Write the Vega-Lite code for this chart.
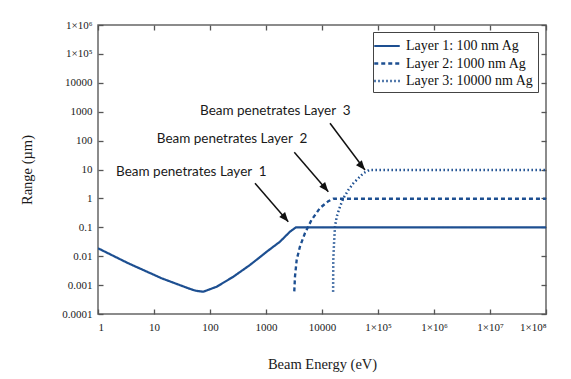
{
  "$schema": "https://vega.github.io/schema/vega-lite/v6.json",
  "width": 448,
  "height": 289,
  "autosize": "none",
  "padding": {"left": 98, "top": 25, "right": 25, "bottom": 65},
  "background": "white",
  "config": {
    "view": {"stroke": "#666666", "strokeWidth": 1.5},
    "axis": {"grid": false, "domain": false, "tickColor": "#555555", "tickWidth": 1.3, "labelFont": "Liberation Serif", "labelFontSize": 11, "labelColor": "#1a1a1a", "titleFont": "Liberation Serif", "titleFontSize": 14.5, "titleFontWeight": "normal", "titleColor": "#1a1a1a"}
  },
  "datasets": {
    "curves": [
      {"layer": "Layer 1: 100 nm Ag", "E": 1, "R": 0.0188},
      {"layer": "Layer 1: 100 nm Ag", "E": 3.48, "R": 0.00568},
      {"layer": "Layer 1: 100 nm Ag", "E": 13.7, "R": 0.00172},
      {"layer": "Layer 1: 100 nm Ag", "E": 41, "R": 0.000775},
      {"layer": "Layer 1: 100 nm Ag", "E": 55, "R": 0.00064},
      {"layer": "Layer 1: 100 nm Ag", "E": 75.9, "R": 0.00059},
      {"layer": "Layer 1: 100 nm Ag", "E": 131.8, "R": 0.00088},
      {"layer": "Layer 1: 100 nm Ag", "E": 261, "R": 0.00195},
      {"layer": "Layer 1: 100 nm Ag", "E": 518, "R": 0.00497},
      {"layer": "Layer 1: 100 nm Ag", "E": 1030, "R": 0.0143},
      {"layer": "Layer 1: 100 nm Ag", "E": 1778, "R": 0.0318},
      {"layer": "Layer 1: 100 nm Ag", "E": 2683, "R": 0.0705},
      {"layer": "Layer 1: 100 nm Ag", "E": 3433, "R": 0.1},
      {"layer": "Layer 1: 100 nm Ag", "E": 100000000, "R": 0.1},
      {"layer": "Layer 2: 1000 nm Ag", "E": 3200, "R": 0.000605},
      {"layer": "Layer 2: 1000 nm Ag", "E": 3296, "R": 0.002},
      {"layer": "Layer 2: 1000 nm Ag", "E": 3535, "R": 0.0076},
      {"layer": "Layer 2: 1000 nm Ag", "E": 4050, "R": 0.0218},
      {"layer": "Layer 2: 1000 nm Ag", "E": 4970, "R": 0.0635},
      {"layer": "Layer 2: 1000 nm Ag", "E": 6540, "R": 0.183},
      {"layer": "Layer 2: 1000 nm Ag", "E": 9210, "R": 0.466},
      {"layer": "Layer 2: 1000 nm Ag", "E": 12970, "R": 0.8},
      {"layer": "Layer 2: 1000 nm Ag", "E": 15900, "R": 0.97},
      {"layer": "Layer 2: 1000 nm Ag", "E": 100000000, "R": 0.97},
      {"layer": "Layer 3: 10000 nm Ag", "E": 15800, "R": 0.00059},
      {"layer": "Layer 3: 10000 nm Ag", "E": 15900, "R": 0.0074},
      {"layer": "Layer 3: 10000 nm Ag", "E": 16400, "R": 0.0279},
      {"layer": "Layer 3: 10000 nm Ag", "E": 17060, "R": 0.105},
      {"layer": "Layer 3: 10000 nm Ag", "E": 18300, "R": 0.233},
      {"layer": "Layer 3: 10000 nm Ag", "E": 20950, "R": 0.516},
      {"layer": "Layer 3: 10000 nm Ag", "E": 23990, "R": 1.0},
      {"layer": "Layer 3: 10000 nm Ag", "E": 29500, "R": 1.95},
      {"layer": "Layer 3: 10000 nm Ag", "E": 36250, "R": 3.33},
      {"layer": "Layer 3: 10000 nm Ag", "E": 44500, "R": 4.96},
      {"layer": "Layer 3: 10000 nm Ag", "E": 54700, "R": 7.39},
      {"layer": "Layer 3: 10000 nm Ag", "E": 70000, "R": 9.7},
      {"layer": "Layer 3: 10000 nm Ag", "E": 100000000, "R": 9.7}
    ],
    "notes": [
      {"label": "Beam penetrates Layer \u00a01", "tx": 2.1, "ty": 8.4, "E0": 636, "R0": 3.33, "E1": 2500, "R1": 0.156},
      {"label": "Beam penetrates Layer \u00a02", "tx": 11.2, "ty": 113, "E0": 3200, "R0": 39.4, "E1": 12970, "R1": 1.71},
      {"label": "Beam penetrates Layer \u00a03", "tx": 66.3, "ty": 1083, "E0": 13900, "R0": 397, "E1": 58600, "R1": 9.6}
    ]
  },
  "resolve": {"axis": {"x": "independent", "y": "independent"}},
  "layer": [
    {
      "data": {"name": "curves"},
      "mark": {"type": "line", "color": "#1d4f91", "clip": true},
      "encoding": {
        "x": {"field": "E", "type": "quantitative", "scale": {"type": "log", "domain": [1, 100000000]},
          "axis": {"orient": "bottom", "title": "Beam Energy (eV)", "values": [1, 10, 100, 1000, 10000, 100000, 1000000, 10000000, 100000000], "format": "~r", "tickSize": -5, "labelPadding": 12, "titlePadding": 25,
            "labelExpr": "datum.value == 100000 ? '1×10⁵' : datum.value == 1000000 ? '1×10⁶' : datum.value == 10000000 ? '1×10⁷' : datum.value == 100000000 ? '1×10⁸' : datum.label"}},
        "y": {"field": "R", "type": "quantitative", "scale": {"type": "log", "domain": [0.0001, 1000000]},
          "axis": {"orient": "left", "title": "Range (µm)", "values": [0.0001, 0.001, 0.01, 0.1, 1, 10, 100, 1000, 10000, 100000, 1000000], "format": "~r", "tickSize": -5, "labelPadding": 11, "titlePadding": 27,
            "labelExpr": "datum.value == 100000 ? '1×10⁵' : datum.value == 1000000 ? '1×10⁶' : datum.label"}},
        "strokeDash": {"field": "layer", "type": "nominal",
          "scale": {"domain": ["Layer 1: 100 nm Ag", "Layer 2: 1000 nm Ag", "Layer 3: 10000 nm Ag"], "range": [[1, 0], [4, 3], [1.5, 2.5]]},
          "legend": {"orient": "none", "legendX": 275, "legendY": 7, "title": null, "strokeColor": "#444444", "fillColor": "white", "padding": 4, "labelFont": "Liberation Serif", "labelFontSize": 14, "labelColor": "#111111", "symbolType": "M-1.5,0L1.5,0", "symbolSize": 289, "symbolFillColor": "transparent", "symbolStrokeColor": "#1d4f91", "symbolStrokeWidth": 2.2, "rowPadding": 0.5, "labelOffset": 9}},
        "strokeWidth": {"field": "layer", "type": "nominal", "scale": {"domain": ["Layer 1: 100 nm Ag", "Layer 2: 1000 nm Ag", "Layer 3: 10000 nm Ag"], "range": [2.2, 2.5, 2.5]}, "legend": null}
      }
    },
    {
      "data": {"name": "notes"},
      "mark": {"type": "rule", "color": "#111111", "strokeWidth": 1.5},
      "encoding": {
        "x": {"field": "E0", "type": "quantitative", "scale": {"type": "log"}, "axis": {"orient": "top", "labels": false, "title": null, "values": [1, 10, 100, 1000, 10000, 100000, 1000000, 10000000, 100000000], "tickSize": -5}},
        "y": {"field": "R0", "type": "quantitative", "scale": {"type": "log"}, "axis": {"orient": "right", "labels": false, "title": null, "values": [0.0001, 0.001, 0.01, 0.1, 1, 10, 100, 1000, 10000, 100000, 1000000], "tickSize": -5}},
        "x2": {"field": "E1"},
        "y2": {"field": "R1"}
      }
    },
    {
      "data": {"name": "notes"},
      "mark": {"type": "point", "shape": "M0,0L-0.38,0.95L0.38,0.95Z", "filled": true, "color": "#111111", "opacity": 1, "size": 400, "angle": 140},
      "encoding": {
        "x": {"field": "E1", "type": "quantitative", "scale": {"type": "log"}, "axis": null},
        "y": {"field": "R1", "type": "quantitative", "scale": {"type": "log"}, "axis": null}
      }
    },
    {
      "data": {"name": "notes"},
      "mark": {"type": "text", "font": "Lato", "fontSize": 13.5, "color": "#1a1a1a", "align": "left", "baseline": "middle"},
      "encoding": {
        "x": {"field": "tx", "type": "quantitative", "scale": {"type": "log"}, "axis": null},
        "y": {"field": "ty", "type": "quantitative", "scale": {"type": "log"}, "axis": null},
        "text": {"field": "label"}
      }
    }
  ]
}
